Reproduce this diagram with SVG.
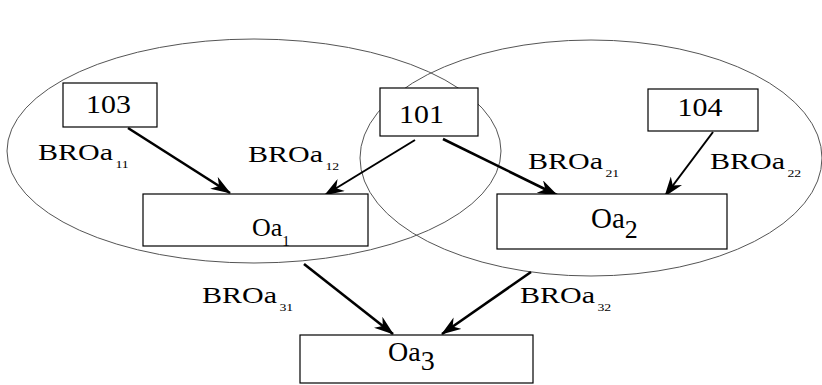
<svg xmlns="http://www.w3.org/2000/svg" width="822" height="385" viewBox="0 0 822 385" font-family="Liberation Serif">
  <style>
    .region { fill: none; stroke: #555; stroke-width: 1; }
    .box { fill: #fff; stroke: #000; stroke-width: 1.2; }
    .num { font-size: 26px; }
    .lbl { font-size: 24px; }
    .sub { font-size: 11px; }
    .edge { fill: none; stroke: #000; stroke-width: 2.6; marker-end: url(#head); }
    .edge.thin { stroke-width: 2; }
  </style>
  <defs>
    <marker id="head" viewBox="0 0 20 14" refX="19" refY="7" markerWidth="20" markerHeight="14" markerUnits="userSpaceOnUse" orient="auto">
      <path d="M0,0 L20,7 L0,14 L6,7 z" fill="#000"/>
    </marker>
  </defs>
  <rect width="822" height="385" fill="#fff"/>

  <!-- overlapping regions -->
  <g id="regions">
    <ellipse class="region" cx="254" cy="151" rx="247" ry="112"/>
    <ellipse class="region" cx="591" cy="158" rx="231" ry="118"/>
  </g>

  <!-- connectors -->
  <g id="connectors">
    <line class="edge" x1="128" y1="128" x2="230" y2="193"/>
    <line class="edge thin" x1="415" y1="140" x2="325" y2="195"/>
    <line class="edge" x1="443" y1="139" x2="557" y2="195"/>
    <line class="edge thin" x1="713" y1="132" x2="665" y2="196"/>
    <line class="edge" x1="304" y1="264" x2="393" y2="334"/>
    <line class="edge" x1="531" y1="272" x2="442" y2="334"/>
  </g>

  <!-- connector labels -->
  <g id="edge-labels" font-family="Liberation Serif" fill="#000">
    <text class="lbl" font-family="Liberation Serif" transform="translate(38,160) scale(1.25,1)">BROa<tspan class="sub" dx="2" dy="8">11</tspan></text>
    <text class="lbl" font-family="Liberation Serif" transform="translate(248,162) scale(1.25,1)">BROa<tspan class="sub" dx="2" dy="8">12</tspan></text>
    <text class="lbl" font-family="Liberation Serif" transform="translate(528,169) scale(1.25,1)">BROa<tspan class="sub" dx="2" dy="8">21</tspan></text>
    <text class="lbl" font-family="Liberation Serif" transform="translate(710,169) scale(1.25,1)">BROa<tspan class="sub" dx="2" dy="8">22</tspan></text>
    <text class="lbl" font-family="Liberation Serif" transform="translate(202,303) scale(1.25,1)">BROa<tspan class="sub" dx="2" dy="8">31</tspan></text>
    <text class="lbl" font-family="Liberation Serif" transform="translate(520,303) scale(1.25,1)">BROa<tspan class="sub" dx="2" dy="8">32</tspan></text>
  </g>

  <!-- nodes -->
  <g id="n103">
    <rect class="box" x="63" y="83" width="94" height="44"/>
    <text class="num" font-family="Liberation Serif" text-anchor="middle" transform="translate(108.5,113) scale(1.15,1)">103</text>
  </g>
  <g id="n101">
    <rect class="box" x="380" y="88" width="98" height="48"/>
    <text class="num" font-family="Liberation Serif" text-anchor="middle" transform="translate(421.5,123) scale(1.15,1)">101</text>
  </g>
  <g id="n104">
    <rect class="box" x="648" y="89" width="110" height="42"/>
    <text class="num" font-family="Liberation Serif" text-anchor="middle" transform="translate(700,116) scale(1.15,1)">104</text>
  </g>
  <g id="oa1">
    <rect class="box" x="143" y="194" width="225" height="52"/>
    <text font-family="Liberation Serif" x="252" y="236" font-size="26">Oa<tspan font-size="15" dy="10">1</tspan></text>
  </g>
  <g id="oa2">
    <rect class="box" x="497" y="194" width="230" height="55"/>
    <text font-family="Liberation Serif" x="591" y="228" font-size="29">Oa<tspan font-size="26" dy="10">2</tspan></text>
  </g>
  <g id="oa3">
    <rect class="box" x="300" y="335" width="233" height="48"/>
    <text font-family="Liberation Serif" x="388" y="361" font-size="28">Oa<tspan font-size="28" dy="9">3</tspan></text>
  </g>
</svg>
